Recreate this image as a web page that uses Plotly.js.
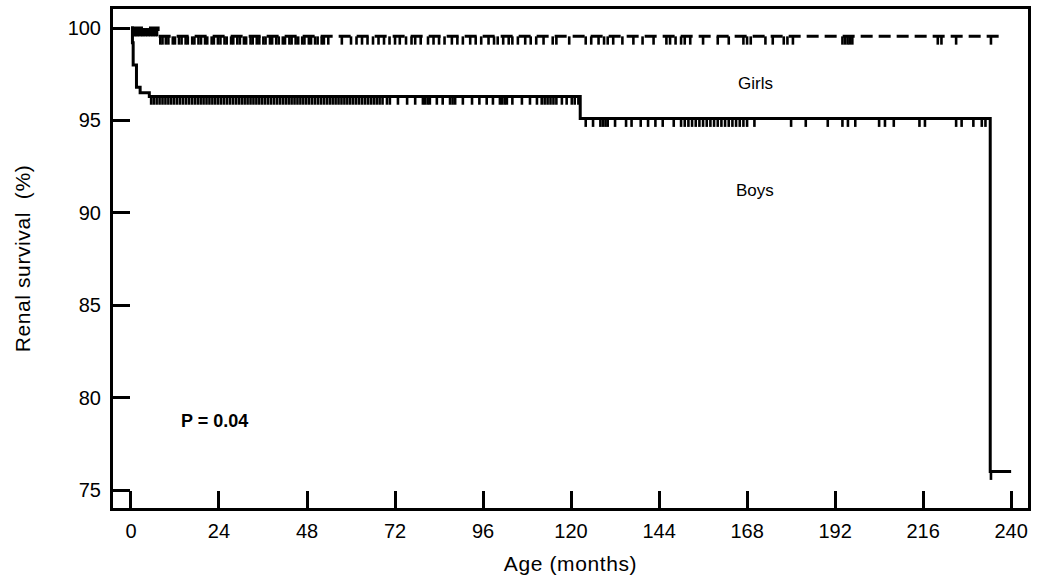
<!DOCTYPE html>
<html>
<head>
<meta charset="utf-8">
<script src="https://cdn.plot.ly/plotly-3.0.1.min.js"></script>
<style>html,body{margin:0;padding:0;background:#fff;}#chart{width:1037px;height:586px;}
.xtitle,.ytitle{letter-spacing:0.6px;}</style>
</head>
<body>
<div id="chart"></div>
<script>
// Kaplan-Meier step data (months, survival %)
const girlsTimes = [0, 7.4, 238];
const girlsSurv  = [100, 99.55, 99.55];
const boysTimes  = [0, 0.4, 0.6, 1.5, 2.5, 5.0, 122.5, 234.3, 240];
const boysSurv   = [100, 99.2, 98.0, 96.8, 96.5, 96.3, 95.1, 76.0, 76.0];

// Censoring times (months)
const girlsCensored = [0.6, 1.0, 1.4, 1.8, 2.2, 2.7, 3.1, 3.5, 4.0, 4.4, 4.9, 5.3, 5.8, 6.2, 6.7, 7.1,
  8, 8.6, 9.5, 10.2, 11.4, 12, 13.1, 13.8, 14.9, 15.5, 16.7, 17.3, 18.4, 19.1, 20.2, 20.8, 22, 22.6,
  23.7, 24.4, 25.5, 26.1, 27.3, 27.9, 29, 29.7, 30.8, 31.4, 32.6, 33.2, 34.3, 35, 36.1, 36.7, 37.9,
  38.5, 39.6, 40.3, 41.4, 42, 43.2, 43.8, 44.9, 45.6, 46.7, 47.3, 48.5, 49.1, 50.2, 50.9, 52, 52.6, 53.8,
  57.5, 60, 61.5, 63, 64.5, 66, 67.5, 69, 70.5, 72, 73.3, 75, 76.5, 77.5, 79, 81, 82.5, 84, 85.5, 87.5,
  89, 90.5, 92.5, 94, 95.5, 97.5, 99, 100, 101.5, 103, 104, 105.5, 107.5, 109, 110.5, 112.5, 115, 116,
  119.5, 124, 125.5, 127.5, 129, 130, 131.5, 134, 137, 139.5, 142.5, 146, 147, 148.5, 150, 151, 152.5,
  156, 160, 163, 167, 168, 169, 173, 175, 178, 179, 180.5, 194, 194.7, 195.4, 196, 196.7, 220, 221, 225, 234.5];
const boysCensored = [5.5, 6.2, 7, 7.8, 8.6, 9.4, 10.2, 11, 11.8, 12.6, 13.4, 14.2, 15, 15.8, 16.6,
  17.4, 18.2, 19, 19.8, 20.6, 21.4, 22.2, 23, 23.8, 24.6, 25.4, 26.2, 27, 27.8, 28.6, 29.4, 30.2,
  31, 31.8, 32.6, 33.4, 34.2, 35, 35.8, 36.6, 37.4, 38.2, 39, 39.8, 40.6, 41.4, 42.2, 43, 43.8,
  44.6, 45.4, 46.2, 47, 47.8, 48.6, 49.4, 50.2, 51, 51.8, 52.6, 53.4, 54.2, 55, 55.8, 56.6, 57.4,
  58.2, 59, 59.8, 60.6, 61.4, 62.2, 63, 63.8, 64.6, 65.4, 66.2, 67, 67.8, 68.6,
  69.8, 70.6, 72.8, 75.3, 77.5, 79.6, 80.2, 80.9, 81.5, 83.4, 85, 87,
  87.7, 88.4, 90.5, 93, 95, 97, 98.7, 100.6, 101.2, 101.9, 102.5, 104, 106.6, 108.8, 110.7, 112, 112.8,
  113.6, 114.4, 115.2, 116, 117.5, 118.8, 120.2, 121, 122,
  124, 126, 128, 128.7, 129.4, 130, 132, 135, 136.5, 139, 141, 143, 145, 148, 150, 151, 152, 153, 154,
  155, 156, 157, 158, 159, 160, 161, 162, 163, 164, 165, 166, 167, 168, 170, 180, 184, 190, 194, 195.5,
  197.5, 204, 205.6, 208, 215, 216.5, 225, 226.5, 229.7, 232, 233, 234.5];

const xTicks = [0, 24, 48, 72, 96, 120, 144, 168, 192, 216, 240];
const yTicks = [75, 80, 85, 90, 95, 100];

function stepAt(times, surv, t) {
  let v = surv[0];
  for (let i = 0; i < times.length; i++) { if (times[i] <= t) v = surv[i]; }
  return v;
}

const TICKLEN = 0.45; // censor tick length (data units, downward)
function censorTrace(times, surv, cens) {
  const ys = cens.map(t => stepAt(times, surv, t));
  return {
    x: cens, y: ys, type: 'scatter', mode: 'markers',
    marker: {size: 0.1, color: 'rgba(0,0,0,0)'},
    error_y: {type: 'data', symmetric: false, array: cens.map(() => 0),
              arrayminus: cens.map(() => TICKLEN), width: 0, thickness: 2.6, color: '#000'},
    hoverinfo: 'skip', showlegend: false, cliponaxis: false
  };
}

const font = 'Arial, "Liberation Sans", Helvetica, sans-serif';
const data = [
  {x: boysTimes, y: boysSurv, type: 'scatter', mode: 'lines', line: {shape: 'hv', color: '#000', width: 3}, showlegend: false},
  {x: girlsTimes, y: girlsSurv, type: 'scatter', mode: 'lines', line: {shape: 'hv', color: '#000', width: 3, dash: '12px,6px'}, showlegend: false},
  censorTrace(boysTimes, boysSurv, boysCensored),
  censorTrace(girlsTimes, girlsSurv, girlsCensored)
];

const layout = {
  width: 1037, height: 586,
  margin: {l: 113, r: 9, t: 9, b: 78},
  paper_bgcolor: '#fff', plot_bgcolor: '#fff',
  font: {family: font, color: '#000', size: 20},
  showlegend: false,
  xaxis: {
    range: [-4.9, 244.6], tickvals: xTicks, ticktext: xTicks.map(String),
    ticks: 'inside', ticklen: 17, tickwidth: 3, tickcolor: '#000',
    showline: true, linewidth: 3, linecolor: '#000', mirror: true,
    showgrid: false, zeroline: false, ticklabelstandoff: 3,
    tickfont: {size: 20},
    title: {text: 'Age (months)', font: {size: 21}, standoff: 16}
  },
  yaxis: {
    range: [74.03, 101.03], tickvals: yTicks, ticktext: yTicks.map(String),
    ticks: 'inside', ticklen: 17, tickwidth: 3, tickcolor: '#000',
    showline: true, linewidth: 3, linecolor: '#000', mirror: true,
    showgrid: false, zeroline: false, ticklabelstandoff: 5,
    tickfont: {size: 20},
    title: {text: 'Renal survival&nbsp;&nbsp;(%)', font: {size: 21}, standoff: 32}
  },
  annotations: [
    {x: 170.2, y: 96.98, xref: 'x', yref: 'y', text: 'Girls', showarrow: false, font: {size: 17}},
    {x: 170.2, y: 91.2, xref: 'x', yref: 'y', text: 'Boys', showarrow: false, font: {size: 17}},
    {x: 22.9, y: 78.73, xref: 'x', yref: 'y', text: '<b>P = 0.04</b>', showarrow: false, font: {size: 18}}
  ]
};

Plotly.newPlot('chart', data, layout, {displayModeBar: false, staticPlot: true});
</script>
</body>
</html>
